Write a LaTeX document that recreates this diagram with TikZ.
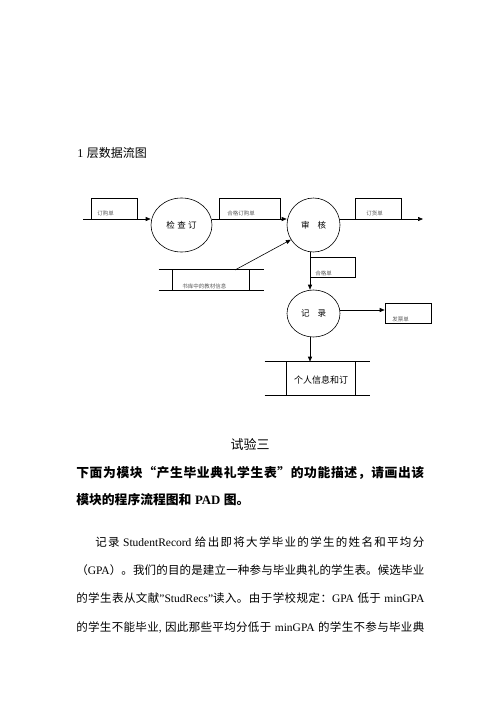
\documentclass[tikz,border=0pt]{standalone}
\usepackage{fontspec}
\setmainfont{Liberation Serif}
\newfontfamily\cjk{Noto Sans CJK SC}
\usetikzlibrary{shapes.geometric,arrows.meta}
% own character class for CJK, with stretchable glue between such characters
\newcount\cjkcnt
\cjkcnt="4E00
\loop
  \XeTeXcharclass\cjkcnt=77
  \advance\cjkcnt by 1
\ifnum\cjkcnt<"A000 \repeat
\XeTeXcharclass"3002=77
\XeTeXcharclass"FF0C=77
\XeTeXcharclass"FF1A=77
\XeTeXcharclass"FF08=77
\XeTeXcharclass"FF09=77
\XeTeXcharclass"201C=77
\XeTeXcharclass"201D=77
\XeTeXinterchartokenstate=1
\XeTeXinterchartoks 77 77 = {\hskip 0pt plus 1fil minus 0.5pt\relax}
\newcommand\gap{\hspace{3.5pt}}
\begin{document}
\begin{tikzpicture}[x=1pt,y=-1pt,line width=0.6pt,
  proc/.style={draw,ellipse,inner sep=0,font=\cjk\fontsize{8.5}{10}\selectfont},
  flowbox/.style={draw,rectangle,inner sep=0,minimum width=#1,minimum height=21pt},
  lowbox/.style={draw,rectangle,inner sep=0,minimum width=#1,minimum height=20pt},
  tinylbl/.style={font=\cjk\fontsize{5.5}{6}\selectfont,text=black!65,inner sep=0,anchor=west},
  arr/.style={-{Triangle[length=5pt,width=4pt]}},
  plain/.style={anchor=west,inner sep=0},
  store/.style={inner sep=0,rectangle}]
\useasboundingbox (0,0) rectangle (500,707);

% title
\node[plain,font=\cjk\fontsize{12}{14}\selectfont] (t1) at (77,153) {{\rmfamily 1}\gap 层数据流图};

% processes
\node[proc,minimum width=61pt,minimum height=54pt] (c1) at (181.5,225) {检\hspace{2.5pt}查\hspace{2.5pt}订};
\node[proc,minimum width=53pt,minimum height=54pt] (c2) at (313.5,225) {审\hspace{8pt}核};
\node[proc,minimum width=53pt,minimum height=47pt] (c3) at (313.5,313.5) {记\hspace{8pt}录};

% data flow boxes
\node[flowbox=46pt] (b1) at (114,208.5) {};
\node[tinylbl] (l1) at (97,213) {订购单};
\node[flowbox=61pt] (b2) at (249.5,208.5) {};
\node[tinylbl] (l2) at (227,213.5) {合格订购单};
\node[flowbox=46pt] (b3) at (378,208.5) {};
\node[tinylbl] (l3) at (366,213.5) {订货单};
\node[lowbox=45pt] (b4) at (332.5,267) {};
\node[tinylbl] (l4) at (315,273) {合格单};
\node[lowbox=46pt] (b5) at (408,313) {};
\node[tinylbl] (l5) at (392,319) {发票单};

% store 1
\node[store,minimum width=105pt,minimum height=20pt] (s1) at (211.5,280) {};
\draw (s1.north west) -- (s1.north east);
\draw (s1.south west) -- (s1.south east);
\draw ([xshift=14pt]s1.north west) -- ([xshift=14pt]s1.south west);
\draw ([xshift=-15pt]s1.north east) -- ([xshift=-15pt]s1.south east);
\node[tinylbl] (l6) at (182,286) {书库中的教材信息};

% store 2
\node[store,minimum width=105pt,minimum height=33pt] (s2) at (317.5,378.5) {};
\draw (s2.north west) -- (s2.north east);
\draw (s2.south west) -- (s2.south east);
\draw ([xshift=22pt]s2.north west) -- ([xshift=22pt]s2.south west);
\draw ([xshift=-15pt]s2.north east) -- ([xshift=-15pt]s2.south east);
\node[inner sep=0,font=\cjk\fontsize{9}{10}\selectfont] (l7) at (321,380) {个人信息和订};

% connectors
\coordinate (in) at (83,219);
\coordinate (out) at (423,219);
\coordinate (s1t) at (235,270);
\draw[arr] (in) -- (in -| c1.west);
\draw[arr] (c1.east |- in) -- (c2.west |- in);
\draw[arr] (c2.east |- in) -- (out);
\draw[arr] (s1t) -- (c2.213);
\draw[arr] ([xshift=-3.5pt]c2.south) -- ([xshift=-3.5pt]c3.north);
\draw[arr] ([yshift=3.5pt]c3.east) -- ([yshift=3.5pt]c3.east -| b5.west);
\draw[arr] ([xshift=-3.5pt]c3.south) -- ([xshift=-3.5pt]c3.south |- s2.north);

% text section
\node[inner sep=0,font=\cjk\fontsize{13}{15}\selectfont] (t2) at (250,444) {试验三};
\node[plain,font=\cjk\bfseries\fontsize{12.8}{15}\selectfont] (h1) at (76,473)
  {\makebox[348pt][s]{下面为模块“产生毕业典礼学生表”的功能描述，请画出该}};
\node[plain,font=\cjk\bfseries\fontsize{12.8}{15}\selectfont] (h2) at (76,500)
  {模块的程序流程图和\gap{\rmfamily\bfseries PAD}\gap 图。};
\node[plain,font=\cjk\fontsize{11.5}{14}\selectfont] (p1) at (95,542)
  {\makebox[329pt][s]{记录\gap{\rmfamily StudentRecord}\gap 给出即将大学毕业的学生的姓名和平均分}};
\node[plain,font=\cjk\fontsize{11.5}{14}\selectfont] (p2) at (76,570)
  {\makebox[348pt][s]{（{\rmfamily GPA}）。我们的目的是建立一种参与毕业典礼的学生表。候选毕业}};
\node[plain,font=\cjk\fontsize{11.5}{14}\selectfont] (p3) at (76,598)
  {\makebox[348pt][s]{的学生表从文献{\rmfamily ”StudRecs”}读入。由于学校规定：{\rmfamily GPA}\gap 低于\gap{\rmfamily minGPA}}};
\node[plain,font=\cjk\fontsize{11.5}{14}\selectfont] (p4) at (76,627)
  {\makebox[348pt][s]{的学生不能毕业{\rmfamily ,}\gap 因此那些平均分低于\gap{\rmfamily minGPA}\gap 的学生不参与毕业典}};
\end{tikzpicture}
\end{document}
